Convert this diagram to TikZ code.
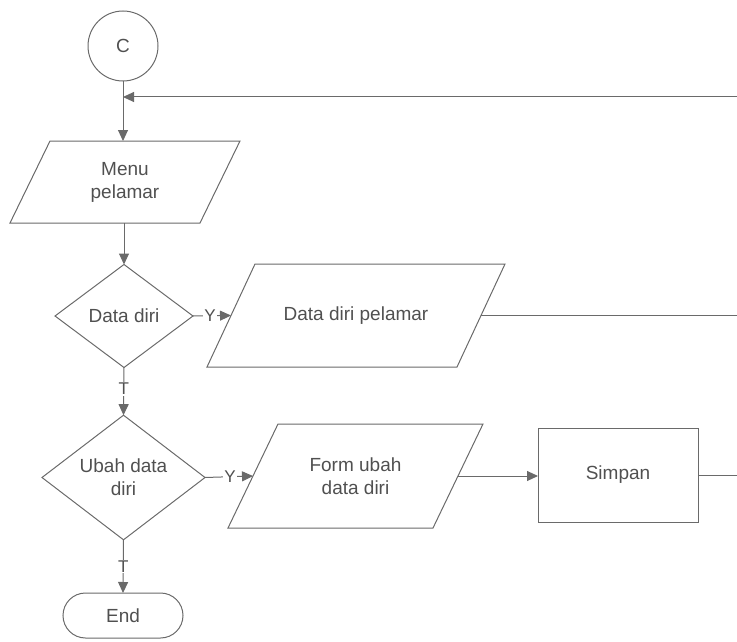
\documentclass[tikz,border=0pt]{standalone}
\usepackage{fontspec}
\setmainfont{Liberation Sans}
\usetikzlibrary{shapes.geometric,shapes.misc,arrows.meta}
\definecolor{linec}{HTML}{6A6A6A}
\definecolor{textc}{HTML}{505050}
% name, cx, cy, total width, height, slant, text
\newcommand\iobox[7]{%
  \node[base, draw=none, minimum width=#4pt-#6pt, minimum height=#5pt] (#1) at (#2,#3) {#7};
  \draw[plain] ([xshift={#6pt/2}]#1.north west) -- ([xshift={#6pt/2}]#1.north east)
    -- ([xshift={-#6pt/2}]#1.south east) -- ([xshift={-#6pt/2}]#1.south west) -- cycle;
}
\begin{document}
\begin{tikzpicture}[x=1pt,y=-1pt,
  base/.style={draw=linec, line width=1pt, text=textc, inner sep=0pt, outer sep=0pt,
    font=\fontsize{19}{23}\selectfont, align=center},
  conn/.style={base, shape=circle},
  dec/.style={base, diamond},
  proc/.style={base, rectangle},
  term/.style={base, rounded rectangle},
  flow/.style={draw=linec, line width=1pt, -{Triangle[length=11pt,width=10pt]}},
  plain/.style={draw=linec, line width=1pt, line join=miter},
  lbl/.style={fill=white, text=textc, inner sep=1pt, font=\fontsize{17}{19}\selectfont}
]
\useasboundingbox (0,0) rectangle (737,642);
\node[conn, minimum size=70pt] (C) at (123,46) {C};
\iobox{menu}{125}{182}{230}{82}{40}{Menu\\pelamar}
\node[dec, minimum width=138pt, minimum height=103pt] (dd) at (124,316) {Data diri};
\iobox{ddp}{356}{315.5}{298}{103}{48}{Data diri pelamar}
\node[dec, minimum width=163pt, minimum height=121pt] (ub) at (123.5,477.5) {Ubah data\\diri};
\iobox{form}{355.5}{476}{255}{104}{50}{Form ubah\\data diri}
\node[proc, minimum width=160pt, minimum height=94pt] (simpan) at (618,475) {Simpan};
\node[term, minimum width=120pt, minimum height=45pt] (end) at (123,615.5) {End};
\coordinate (in1) at (737,97);
\coordinate (out1) at (737,313);
\coordinate (out2) at (737,476);
\coordinate (join) at (123,97);

\draw[flow] (C.south) -- (C.south |- menu.north);
\draw[flow] (in1) -- (join);
\draw[flow] (menu.south -| dd.north) -- (dd.north);
\draw[flow] (dd.east) -- node[lbl, pos=0.45] {Y} (ddp.west);
\draw[plain] (ddp.east) -- (ddp.east -| out1);
\draw[flow] (dd.south) -- node[lbl, pos=0.45] {T} (ub.north);
\draw[flow] (ub.east) -- node[lbl, pos=0.52] {Y} (form.west);
\draw[flow] (form.east) -- (form.east -| simpan.west);
\draw[plain] (simpan.east) -- (simpan.east -| out2);
\draw[flow] (ub.south) -- node[lbl, pos=0.5] {T} (end.north);
\end{tikzpicture}
\end{document}
